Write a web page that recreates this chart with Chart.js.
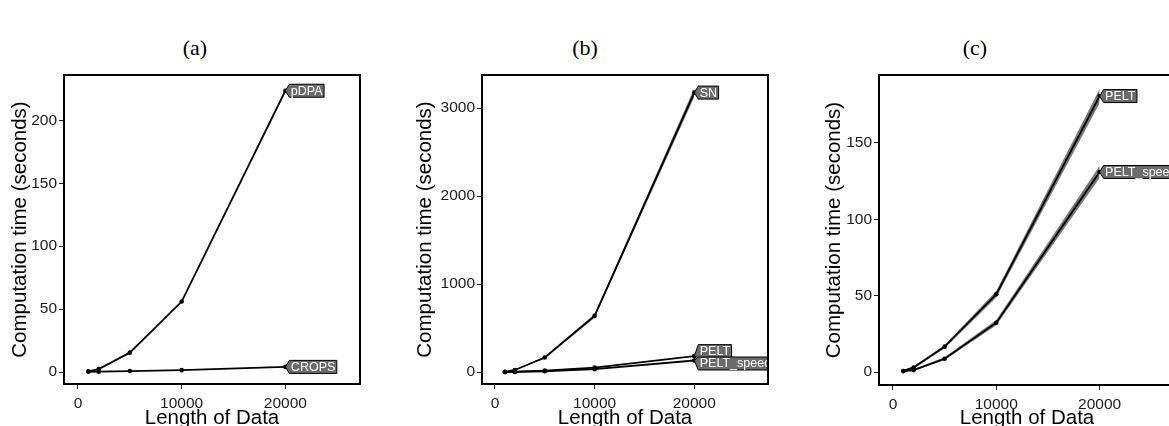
<!DOCTYPE html>
<html>
<head>
<meta charset="utf-8">
<script src="https://cdn.jsdelivr.net/npm/chart.js@4.4.1/dist/chart.umd.min.js"></script>
<style>
  html, body { margin: 0; padding: 0; background: #fff; overflow: hidden; }
  body { width: 1169px; height: 426px; position: relative; }
  .panel { position: absolute; top: 0; }
  .caption {
    position: absolute; top: 35px; width: 390px; text-align: center;
    font: 22px "Liberation Serif", serif; color: #000;
  }
</style>
</head>
<body>
<div class="caption" style="left:0">(a)</div>
<div class="caption" style="left:390px">(b)</div>
<div class="caption" style="left:780px">(c)</div>
<div class="panel" style="left:0"><canvas id="chartA" width="390" height="440"></canvas></div>
<div class="panel" style="left:390px"><canvas id="chartB" width="390" height="440"></canvas></div>
<div class="panel" style="left:780px"><canvas id="chartC" width="400" height="440"></canvas></div>
<script>
const lengths = [1000, 2000, 5000, 10000, 20000];
const xTicks = [0, 10000, 20000];

// (a)
const pdpa = [0.6, 2.4, 15.4, 56, 223.5];
const crops = [0.2, 0.3, 0.8, 1.5, 4.1];
const yTicksA = [0, 50, 100, 150, 200];

// (b)
const sn = [2, 23, 165, 638, 3175];
const snLow = [0, 18, 155, 618, 3125];
const snHigh = [4, 28, 175, 658, 3225];
const yTicksB = [0, 1000, 2000, 3000];

// (b) and (c)
const pelt = [0.7, 3, 16.6, 50.9, 180.7];
const peltLow = [0.3, 2.2, 15.5, 48.8, 176];
const peltHigh = [1.1, 3.8, 17.7, 53, 185.4];
const peltSpeed = [0.6, 1.3, 8.7, 32.3, 131];
const peltSpeedLow = [0.2, 0.7, 7.8, 30.6, 127];
const peltSpeedHigh = [1, 1.9, 9.6, 34, 135];
const yTicksC = [0, 50, 100, 150];

const sans = '"Liberation Sans", Arial, sans-serif';

const toPoints = (ys) => lengths.map((x, i) => ({x: x, y: ys[i]}));

const lineSet = (name, ys, dy) => ({
  label: name,
  tag: name,
  tagDy: dy || 0,
  data: toPoints(ys),
  borderColor: '#000',
  borderWidth: 1.8,
  pointRadius: 2.3,
  pointBackgroundColor: '#000',
  pointBorderWidth: 0,
  fill: false,
  order: 0
});

const bandSets = (low, high) => ([
  {
    data: toPoints(high),
    borderWidth: 0,
    pointRadius: 0,
    backgroundColor: 'rgba(85,85,85,0.8)',
    fill: '+1',
    order: 2
  },
  {
    data: toPoints(low),
    borderWidth: 0,
    pointRadius: 0,
    fill: false,
    order: 2
  }
]);

// black panel border
const framePlugin = {
  id: 'frame',
  afterDraw(chart) {
    const {ctx, chartArea: a} = chart;
    ctx.save();
    ctx.strokeStyle = '#000';
    ctx.lineWidth = 2;
    ctx.strokeRect(a.left, a.top, a.right - a.left, a.bottom - a.top);
    ctx.restore();
  }
};

// grey boxes with a pointed left side at the end of each line
const tagPlugin = {
  id: 'tags',
  afterDatasetsDraw(chart) {
    const {ctx, chartArea: a} = chart;
    ctx.save();
    ctx.beginPath();
    ctx.rect(a.left, a.top, a.right - a.left, a.bottom - a.top);
    ctx.clip();
    ctx.font = '12.5px ' + sans;
    chart.data.datasets.forEach((ds, i) => {
      if (!ds.tag) return;
      const pts = chart.getDatasetMeta(i).data;
      const p = pts[pts.length - 1];
      const cy = p.y + ds.tagDy;
      const h = 13;
      const x0 = p.x + 4;
      const w = ctx.measureText(ds.tag).width + 3;
      ctx.beginPath();
      ctx.moveTo(p.x, p.y);
      ctx.lineTo(x0, cy - h / 2);
      ctx.lineTo(x0 + w, cy - h / 2);
      ctx.lineTo(x0 + w, cy + h / 2);
      ctx.lineTo(x0, cy + h / 2);
      ctx.closePath();
      ctx.fillStyle = '#6b6b6b';
      ctx.fill();
      ctx.strokeStyle = '#000';
      ctx.lineWidth = 1;
      ctx.stroke();
      ctx.fillStyle = '#fff';
      ctx.textBaseline = 'middle';
      ctx.textAlign = 'left';
      ctx.fillText(ds.tag, x0 + 1.5, cy + 0.5);
    });
    ctx.restore();
  }
};

function makePanel(id, box, xRange, yRange, yTicks, yTitlePad, datasets) {
  const canvas = document.getElementById(id);
  return new Chart(canvas, {
    type: 'line',
    data: {datasets: datasets},
    plugins: [framePlugin, tagPlugin],
    options: {
      responsive: false,
      animation: false,
      layout: {
        padding: {left: 0, top: box.top, right: canvas.width - box.right, bottom: 0}
      },
      plugins: {
        legend: {display: false},
        tooltip: {enabled: false},
        title: {display: false}
      },
      scales: {
        x: {
          type: 'linear',
          min: xRange[0],
          max: xRange[1],
          afterBuildTicks: (s) => { s.ticks = xTicks.map((v) => ({value: v})); },
          afterFit: (s) => { s.height = canvas.height - box.bottom; },
          grid: {drawOnChartArea: false, drawTicks: true, tickLength: 5, color: '#222'},
          border: {display: false},
          ticks: {
            color: '#1a1a1a', padding: 5, maxRotation: 0,
            font: {family: sans, size: 15.5},
            callback: (v) => String(v)
          },
          title: {
            display: true,
            text: 'Length of Data',
            color: '#000',
            padding: {top: 0, bottom: 9},
            font: {family: sans, size: 20.5}
          }
        },
        y: {
          type: 'linear',
          min: yRange[0],
          max: yRange[1],
          afterBuildTicks: (s) => { s.ticks = yTicks.map((v) => ({value: v})); },
          afterFit: (s) => { s.width = box.left; },
          grid: {drawOnChartArea: false, drawTicks: true, tickLength: 5, color: '#222'},
          border: {display: false},
          ticks: {
            color: '#1a1a1a', padding: 2,
            font: {family: sans, size: 15.5},
            callback: (v) => String(v)
          },
          title: {
            display: true,
            text: 'Computation time (seconds)',
            color: '#000',
            padding: {top: yTitlePad, bottom: 0},
            font: {family: sans, size: 20.5}
          }
        }
      }
    }
  });
}

makePanel('chartA', {left: 64, right: 360, top: 75, bottom: 384},
  [-1350, 27200], [-9.5, 236], yTicksA, 8,
  [lineSet('pDPA', pdpa), lineSet('CROPS', crops)]);

makePanel('chartB', {left: 92, right: 378, top: 75, bottom: 384},
  [-1300, 27400], [-136, 3375], yTicksB, 23,
  [...bandSets(snLow, snHigh), lineSet('SN', sn),
   lineSet('PELT', pelt, -5), lineSet('PELT_speed', peltSpeed, 3)]);

makePanel('chartC', {left: 99, right: 395, top: 75, bottom: 385},
  [-1355, 27300], [-8.5, 194.5], yTicksC, 42,
  [...bandSets(peltLow, peltHigh), ...bandSets(peltSpeedLow, peltSpeedHigh),
   lineSet('PELT', pelt), lineSet('PELT_speed', peltSpeed)]);
</script>
</body>
</html>
